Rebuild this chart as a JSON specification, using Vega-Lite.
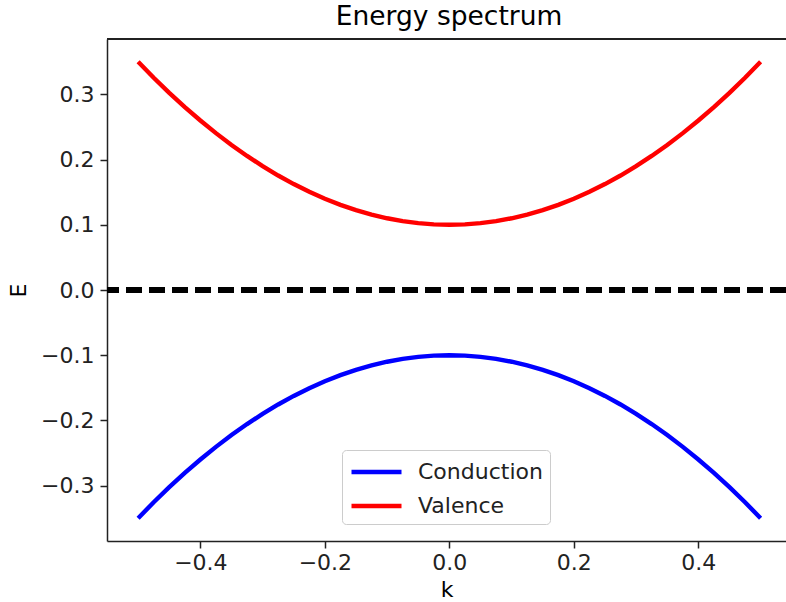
{
  "$schema": "https://vega.github.io/schema/vega-lite/v6.json",
  "autosize": {"type": "none"},
  "padding": {"left": 107, "top": 39, "right": 0, "bottom": 63},
  "width": 679,
  "height": 502,
  "background": "white",
  "title": {"text": "Energy spectrum", "fontSize": 26.5, "font": "DejaVu Sans", "fontWeight": "normal", "color": "#000", "anchor": "middle", "offset": 8, "dx": 2.5},
  "config": {
    "view": {"stroke": null},
    "font": "DejaVu Sans",
    "axis": {"domainColor": "#222", "domainWidth": 1.5, "tickColor": "#222", "tickWidth": 1.5, "tickSize": 7, "labelFontSize": 22, "labelColor": "#222", "titleFontSize": 22, "titleColor": "#000", "titleFontWeight": "normal", "grid": false, "labelFont": "DejaVu Sans", "titleFont": "DejaVu Sans"}
  },
  "data": {"values": [
    {"k": -0.5, "Conduction": -0.35, "Valence": 0.35},
    {"k": -0.475, "Conduction": -0.3256, "Valence": 0.3256},
    {"k": -0.45, "Conduction": -0.3025, "Valence": 0.3025},
    {"k": -0.425, "Conduction": -0.2806, "Valence": 0.2806},
    {"k": -0.4, "Conduction": -0.26, "Valence": 0.26},
    {"k": -0.375, "Conduction": -0.2406, "Valence": 0.2406},
    {"k": -0.35, "Conduction": -0.2225, "Valence": 0.2225},
    {"k": -0.325, "Conduction": -0.2056, "Valence": 0.2056},
    {"k": -0.3, "Conduction": -0.19, "Valence": 0.19},
    {"k": -0.275, "Conduction": -0.1756, "Valence": 0.1756},
    {"k": -0.25, "Conduction": -0.1625, "Valence": 0.1625},
    {"k": -0.225, "Conduction": -0.1506, "Valence": 0.1506},
    {"k": -0.2, "Conduction": -0.14, "Valence": 0.14},
    {"k": -0.175, "Conduction": -0.1306, "Valence": 0.1306},
    {"k": -0.15, "Conduction": -0.1225, "Valence": 0.1225},
    {"k": -0.125, "Conduction": -0.1156, "Valence": 0.1156},
    {"k": -0.1, "Conduction": -0.11, "Valence": 0.11},
    {"k": -0.075, "Conduction": -0.1056, "Valence": 0.1056},
    {"k": -0.05, "Conduction": -0.1025, "Valence": 0.1025},
    {"k": -0.025, "Conduction": -0.1006, "Valence": 0.1006},
    {"k": 0, "Conduction": -0.1, "Valence": 0.1},
    {"k": 0.025, "Conduction": -0.1006, "Valence": 0.1006},
    {"k": 0.05, "Conduction": -0.1025, "Valence": 0.1025},
    {"k": 0.075, "Conduction": -0.1056, "Valence": 0.1056},
    {"k": 0.1, "Conduction": -0.11, "Valence": 0.11},
    {"k": 0.125, "Conduction": -0.1156, "Valence": 0.1156},
    {"k": 0.15, "Conduction": -0.1225, "Valence": 0.1225},
    {"k": 0.175, "Conduction": -0.1306, "Valence": 0.1306},
    {"k": 0.2, "Conduction": -0.14, "Valence": 0.14},
    {"k": 0.225, "Conduction": -0.1506, "Valence": 0.1506},
    {"k": 0.25, "Conduction": -0.1625, "Valence": 0.1625},
    {"k": 0.275, "Conduction": -0.1756, "Valence": 0.1756},
    {"k": 0.3, "Conduction": -0.19, "Valence": 0.19},
    {"k": 0.325, "Conduction": -0.2056, "Valence": 0.2056},
    {"k": 0.35, "Conduction": -0.2225, "Valence": 0.2225},
    {"k": 0.375, "Conduction": -0.2406, "Valence": 0.2406},
    {"k": 0.4, "Conduction": -0.26, "Valence": 0.26},
    {"k": 0.425, "Conduction": -0.2806, "Valence": 0.2806},
    {"k": 0.45, "Conduction": -0.3025, "Valence": 0.3025},
    {"k": 0.475, "Conduction": -0.3256, "Valence": 0.3256},
    {"k": 0.5, "Conduction": -0.35, "Valence": 0.35}
  ]},
  "layer": [
    {
      "mark": {"type": "rule", "color": "#222", "strokeWidth": 1.5},
      "encoding": {"y": {"datum": 0.385, "scale": {"domain": [-0.385, 0.385]}}}
    },
    {
      "mark": {"type": "rule", "color": "#000", "strokeWidth": 4.4, "strokeDash": [16, 7]},
      "encoding": {"y": {"datum": 0}}
    },
    {
      "transform": [{"fold": ["Conduction", "Valence"], "as": ["band", "E"]}],
      "mark": {"type": "line", "strokeWidth": 4.4, "clip": true},
      "encoding": {
        "x": {"field": "k", "type": "quantitative", "scale": {"domain": [-0.55, 0.5408], "nice": false, "zero": false},
              "axis": {"values": [-0.4, -0.2, 0, 0.2, 0.4], "format": ".1f", "title": "k", "labelPadding": 4, "titlePadding": 6}},
        "y": {"field": "E", "type": "quantitative", "scale": {"domain": [-0.385, 0.385], "nice": false, "zero": false},
              "axis": {"values": [-0.3, -0.2, -0.1, 0, 0.1, 0.2, 0.3], "format": ".1f", "title": "E", "labelPadding": 6, "titlePadding": 10}},
        "color": {"field": "band", "type": "nominal", "scale": {"domain": ["Conduction", "Valence"], "range": ["#0000ff", "#ff0000"]},
                  "legend": {"title": null, "orient": "none", "legendX": 235, "legendY": 411, "symbolType": "M-1,0H3", "symbolSize": 625, "symbolStrokeWidth": 4.4,
                             "labelFontSize": 22, "labelFont": "DejaVu Sans", "labelColor": "#222", "labelOffset": 39, "padding": 7, "strokeColor": "#ccc", "fillColor": "white", "cornerRadius": 4, "rowPadding": 8, "labelLimit": 300}}
      }
    }
  ]
}
